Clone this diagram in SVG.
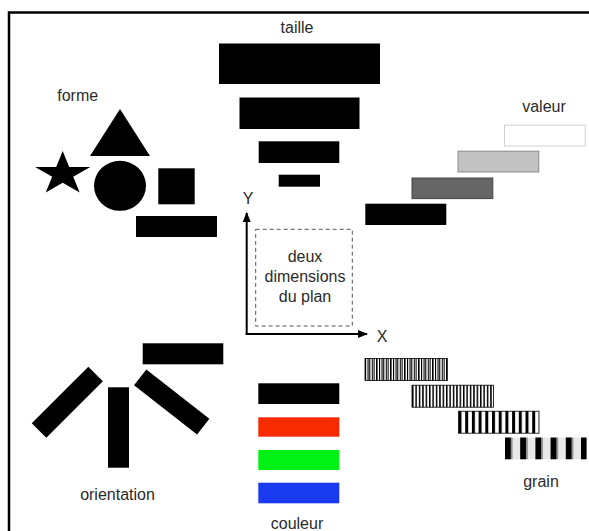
<svg xmlns="http://www.w3.org/2000/svg" width="589" height="531" viewBox="0 0 589 531">
  <style>
    .lbl { font-family: "Liberation Sans", Arial, sans-serif; font-size: 16px; fill: #2a2a2a; text-anchor: middle; }
    .blk { fill: #000; }
    .axis { stroke: #000; stroke-width: 2; fill: none; }
  </style>
  <defs>
    <marker id="arr" viewBox="0 0 10 8" refX="9" refY="4" markerWidth="10" markerHeight="8" markerUnits="userSpaceOnUse" orient="auto">
      <path d="M0,0 L10,4 L0,8 Z" fill="#000"/>
    </marker>
    <pattern id="g1" patternUnits="userSpaceOnUse" x="365" y="0" width="14" height="10">
      <rect x="0" y="0" width="1" height="10" fill="#000"/>
      <rect x="1.8" y="0" width="0.8" height="10" fill="#333"/>
      <rect x="3.4" y="0" width="1.4" height="10" fill="#000"/>
      <rect x="5.6" y="0" width="0.7" height="10" fill="#444"/>
      <rect x="7.2" y="0" width="1.2" height="10" fill="#000"/>
      <rect x="9.2" y="0" width="0.8" height="10" fill="#333"/>
      <rect x="11" y="0" width="1.6" height="10" fill="#000"/>
    </pattern>
    <pattern id="g2" patternUnits="userSpaceOnUse" x="412" y="0" width="3.4" height="10">
      <rect x="0" y="0" width="1.5" height="10" fill="#000"/>
    </pattern>
    <pattern id="g3" patternUnits="userSpaceOnUse" x="458.5" y="0" width="6.7" height="10">
      <rect x="0" y="0" width="3" height="10" fill="#000"/>
    </pattern>
    <pattern id="g4" patternUnits="userSpaceOnUse" x="505" y="0" width="15.2" height="10">
      <rect x="0" y="0" width="15.2" height="10" fill="#e8e8e8"/>
      <rect x="0" y="0" width="6" height="10" fill="#000"/>
      <rect x="6" y="0" width="1.5" height="10" fill="#888"/>
    </pattern>
  </defs>

  <rect id="frame" x="9" y="12.5" width="600" height="540" fill="#fff" stroke="#000" stroke-width="2.5"/>

  <g id="taille">
    <text class="lbl" x="297" y="33">taille</text>
    <rect class="blk" x="219" y="43.5" width="161" height="40.5"/>
    <rect class="blk" x="239.5" y="97.5" width="120" height="31.5"/>
    <rect class="blk" x="258.7" y="141.3" width="80.6" height="21.7"/>
    <rect class="blk" x="278.7" y="174.7" width="41.3" height="12"/>
  </g>

  <g id="forme">
    <text class="lbl" x="77.7" y="100.5">forme</text>
    <polygon class="blk" points="120,109 150,156 90,156"/>
    <polygon class="blk" points="62.7,151 69.2,166.9 90.3,166.9 73.2,176.7 79.7,192.6 62.7,182.8 45.7,192.6 52.2,176.7 35.1,166.9 56.2,166.9"/>
    <ellipse class="blk" cx="120" cy="185.8" rx="26" ry="25"/>
    <rect class="blk" x="158.3" y="168.3" width="36.4" height="36"/>
    <rect class="blk" x="136" y="216" width="81" height="21"/>
  </g>

  <g id="valeur">
    <text class="lbl" x="544" y="111.5">valeur</text>
    <rect x="504.5" y="125.2" width="80.8" height="20.8" fill="#fff" stroke="#d0d0d0" stroke-width="1"/>
    <rect x="458" y="151.2" width="80.8" height="20.8" fill="#c2c2c2" stroke="#8a8a8a" stroke-width="1"/>
    <rect x="412" y="178" width="80.8" height="20.6" fill="#666" stroke="#444" stroke-width="1"/>
    <rect class="blk" x="365.3" y="203.7" width="81" height="21.3"/>
  </g>

  <g id="plan">
    <rect x="255.7" y="229.3" width="96.6" height="96.7" fill="none" stroke="#555" stroke-width="1" stroke-dasharray="4,3"/>
    <text class="lbl" x="305" y="261.5">deux</text>
    <text class="lbl" x="305" y="281.5">dimensions</text>
    <text class="lbl" x="305" y="301.5">du plan</text>
  </g>

  <g id="connectors">
    <line class="axis" x1="246.7" y1="335" x2="246.7" y2="213" marker-end="url(#arr)"/>
    <line class="axis" x1="245.7" y1="334" x2="367" y2="334" marker-end="url(#arr)"/>
  </g>
  <g id="axis-labels">
    <text class="lbl" x="248" y="204">Y</text>
    <text class="lbl" x="382" y="341.7">X</text>
  </g>

  <g id="orientation">
    <rect class="blk" x="142.7" y="343.3" width="80.6" height="21"/>
    <rect class="blk" x="108" y="387.3" width="21" height="80.4"/>
    <rect class="blk" x="-40" y="-10.3" width="80" height="20.6" transform="translate(67.3,402.2) rotate(-45)"/>
    <rect class="blk" x="-40" y="-10" width="80" height="20" transform="translate(171.7,402) rotate(38)"/>
    <text class="lbl" x="117.5" y="500">orientation</text>
  </g>

  <g id="couleur">
    <rect x="258.3" y="383.3" width="81" height="20.7" fill="#000"/>
    <rect x="258.3" y="417.3" width="81" height="19.4" fill="#f82a00"/>
    <rect x="258.3" y="450" width="81" height="20" fill="#00f214"/>
    <rect x="258.3" y="482.7" width="81" height="20.6" fill="#1a3af0"/>
    <text class="lbl" x="297" y="529">couleur</text>
  </g>

  <g id="grain">
    <rect x="365" y="358.5" width="82.3" height="22" fill="url(#g1)" stroke="#000" stroke-width="0.8"/>
    <rect x="412" y="385.2" width="81.5" height="22" fill="url(#g2)" stroke="#000" stroke-width="0.8"/>
    <rect x="458.5" y="411.2" width="80.5" height="22" fill="url(#g3)" stroke="#000" stroke-width="0.8"/>
    <rect x="505" y="437.5" width="81.7" height="21.8" fill="url(#g4)"/>
    <text class="lbl" x="541" y="487">grain</text>
  </g>
</svg>
